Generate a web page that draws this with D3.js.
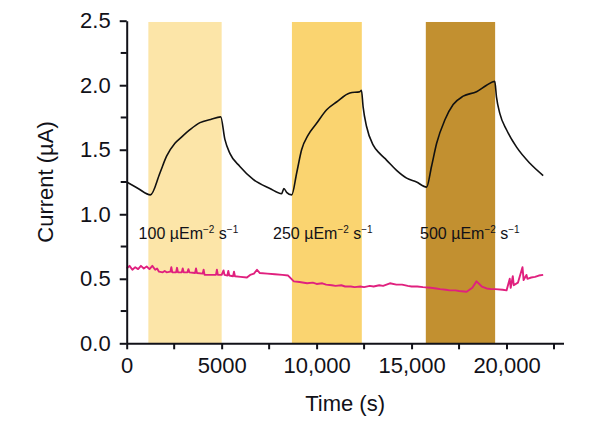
<!DOCTYPE html>
<html><head><meta charset="utf-8">
<script src="https://cdn.jsdelivr.net/npm/d3@7"></script>
<style>
html,body{margin:0;padding:0;background:#fff;}
svg{display:block;font-family:"Liberation Sans",Arial,sans-serif;}
</style></head>
<body><svg id="chart" width="604" height="424"></svg>
<script>
// ---- data ----
const bandStarts = [1140, 8700, 15750];
const bandEnds = [5000, 12380, 19400];
const bandColors = ["#FCE5A8", "#FAD470", "#C29030"];
const bandLabels = ["100", "250", "500"];
const labelTimes = [3250, 10330, 18070];

const blackT = [0, 600, 1250, 1750, 2100, 2540, 2900, 3330, 3860, 4420, 4950,
  5170, 5440, 5960, 6660, 7540, 8160, 8280, 8420, 8690,
  8950, 9210, 9560, 10000, 10530, 11050, 11750, 12280, 12360,
  12450, 12630, 12980, 13330, 13680, 14210, 14740, 15260, 15790,
  16050, 16320, 16750, 17190, 17720, 18420, 18950, 19380,
  19470, 19650, 20000, 20530, 21230, 21930];
const blackV = [1.25, 1.20, 1.15, 1.32, 1.45, 1.55, 1.60, 1.655, 1.71, 1.735, 1.755,
  1.58, 1.47, 1.37, 1.27, 1.20, 1.16, 1.20, 1.17, 1.15,
  1.32, 1.50, 1.615, 1.705, 1.81, 1.87, 1.94, 1.95, 1.96,
  1.83, 1.68, 1.535, 1.47, 1.42, 1.34, 1.28, 1.25, 1.21,
  1.37, 1.55, 1.73, 1.85, 1.915, 1.95, 2.00, 2.03,
  1.91, 1.78, 1.655, 1.52, 1.395, 1.30];

const pinkT = [0, 150, 300, 450, 600, 750, 900, 1050, 1200, 1350, 1500, 1600, 1700,
  1900, 2000, 2100, 2300, 2350, 2400, 2600, 2650, 2700, 2900, 2950, 3000, 3200, 3250, 3300,
  3600, 3650, 3700, 4000, 4050, 4100, 4400, 4700, 4750, 4800, 5000, 5100, 5150, 5300, 5350, 5400,
  5600, 5650, 5700, 6000, 6330, 6500, 6700, 6860, 7000, 7400, 7800, 8200, 8500, 8800,
  9100, 9500, 9800, 10000, 10300, 10500, 10800, 11000, 11300, 11500, 11800, 12000, 12300, 12500,
  12800, 13000, 13300, 13500, 13860, 14200, 14500, 14800, 15000, 15300, 15600,
  16000, 16300, 16500, 16800, 17000, 17300, 17500, 17900, 18200, 18420, 18700, 18950, 19200, 19400, 19800, 20000,
  20170, 20220, 20330, 20380, 20600, 20840, 20900, 21050, 21100, 21300, 21500, 21700, 21930];
const pinkV = [0.58, 0.60, 0.57, 0.59, 0.575, 0.60, 0.58, 0.595, 0.575, 0.60, 0.57, 0.58, 0.555,
  0.55, 0.56, 0.55, 0.555, 0.59, 0.55, 0.55, 0.585, 0.55, 0.55, 0.58, 0.55, 0.55, 0.575, 0.55,
  0.545, 0.58, 0.545, 0.54, 0.57, 0.53, 0.53, 0.53, 0.57, 0.53, 0.53, 0.565, 0.53, 0.525, 0.56, 0.525,
  0.52, 0.555, 0.52, 0.515, 0.51, 0.53, 0.54, 0.57, 0.545, 0.54, 0.535, 0.53, 0.525, 0.48,
  0.475, 0.465, 0.47, 0.46, 0.465, 0.455, 0.45, 0.445, 0.45, 0.44, 0.44, 0.435, 0.44, 0.435,
  0.445, 0.44, 0.45, 0.445, 0.465, 0.455, 0.455, 0.445, 0.44, 0.44, 0.435,
  0.43, 0.425, 0.42, 0.415, 0.41, 0.41, 0.405, 0.40, 0.43, 0.48, 0.44, 0.425, 0.42, 0.42, 0.415, 0.41,
  0.50, 0.43, 0.52, 0.45, 0.47, 0.59, 0.49, 0.53, 0.50, 0.51, 0.515, 0.525, 0.53];

const yTicks = [0, 0.5, 1.0, 1.5, 2.0, 2.5];
const yTickLabels = ["0.0", "0.5", "1.0", "1.5", "2.0", "2.5"];
const yMinor = [0.25, 0.75, 1.25, 1.75, 2.25];
const xTicks = [0, 5000, 10000, 15000, 20000];
const xTickLabels = ["0", "5000", "10,000", "15,000", "20,000"];
const xMinor = [2500, 7500, 12500, 17500, 22500];

// ---- drawing ----
const svg = d3.select("#chart");
const x = d3.scaleLinear().domain([0, 23000]).range([126.7, 563.5]);
const y = d3.scaleLinear().domain([0, 2.5]).range([343.3, 20.7]);
const ink = "#111118";

// bands
svg.append("g").selectAll("rect").data(bandStarts).join("rect")
  .attr("x", (d) => x(d))
  .attr("width", (d, i) => x(bandEnds[i]) - x(d))
  .attr("y", y(2.49))
  .attr("height", y(0) - y(2.49))
  .attr("fill", (d, i) => bandColors[i]);

// lines
const blackData = blackT.map((t, i) => [t, blackV[i]]);
const pinkData = pinkT.map((t, i) => [t, pinkV[i]]);
const line = d3.line().x((d) => x(d[0])).y((d) => y(d[1])).curve(d3.curveMonotoneX);

svg.append("path").datum(pinkData).attr("d", d3.line().x((d) => x(d[0])).y((d) => y(d[1])))
  .attr("fill", "none").attr("stroke", "#E0207E").attr("stroke-width", 1.9)
  .attr("stroke-linejoin", "round");
svg.append("path").datum(blackData).attr("d", line)
  .attr("fill", "none").attr("stroke", "#111").attr("stroke-width", 1.6)
  .attr("stroke-linejoin", "round");

// band labels
bandLabels.forEach((lab, i) => {
  const t = svg.append("text")
    .attr("x", x(labelTimes[i])).attr("y", y(0.81))
    .attr("text-anchor", "middle")
    .attr("font-size", 16).attr("fill", ink);
  t.append("tspan").text(lab + " \u00B5Em");
  t.append("tspan").attr("dy", -6).attr("font-size", 10).text("\u22122");
  t.append("tspan").attr("dy", 6).text(" s");
  t.append("tspan").attr("dy", -6).attr("font-size", 10).text("\u22121");
});

// y axis
const yAxis = svg.append("g").attr("transform", `translate(${x(0)},0)`)
  .call(d3.axisLeft(y).tickValues(yTicks).tickFormat((d, i) => yTickLabels[i]).tickSize(7).tickSizeOuter(0).tickPadding(9));
yAxis.append("g").selectAll("line").data(yMinor).join("line")
  .attr("x1", -6).attr("x2", 0).attr("y1", (d) => y(d)).attr("y2", (d) => y(d));
yAxis.selectAll("path.domain").attr("stroke", ink).attr("stroke-width", 2);
yAxis.selectAll("line").attr("stroke", ink).attr("stroke-width", 2);
yAxis.selectAll("text").attr("font-size", 22).attr("fill", ink).attr("font-family", "Liberation Sans, Arial, sans-serif");

// x axis
const xAxis = svg.append("g").attr("transform", `translate(0,${y(0)})`)
  .call(d3.axisBottom(x).tickValues(xTicks).tickFormat((d, i) => xTickLabels[i]).tickSize(6).tickSizeOuter(0).tickPadding(8));
xAxis.append("g").selectAll("line").data(xMinor).join("line")
  .attr("y1", 0).attr("y2", 6).attr("x1", (d) => x(d)).attr("x2", (d) => x(d));
xAxis.selectAll("path.domain").attr("stroke", ink).attr("stroke-width", 2);
xAxis.selectAll("line").attr("stroke", ink).attr("stroke-width", 2);
xAxis.selectAll("text").attr("font-size", 22).attr("fill", ink).attr("font-family", "Liberation Sans, Arial, sans-serif");

// axis titles
svg.append("text").attr("x", (x(0) + x(23000)) / 2).attr("y", 411)
  .attr("text-anchor", "middle").attr("font-size", 22).attr("fill", ink).text("Time (s)");
svg.append("text").attr("transform", `translate(53,${(y(0) + y(2.5)) / 2}) rotate(-90)`)
  .attr("text-anchor", "middle").attr("font-size", 22).attr("fill", ink).text("Current (\u00B5A)");
</script></body></html>
